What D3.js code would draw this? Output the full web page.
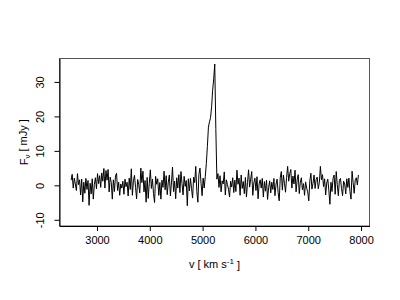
<!DOCTYPE html>
<html>
<head>
<meta charset="utf-8">
<script src="https://cdn.jsdelivr.net/npm/d3@7"></script>
<style>
  body { margin: 0; background: #fff; }
  svg text { font-family: "Liberation Sans", Arial, sans-serif; fill: #000; }
</style>
</head>
<body>
<svg id="chart" width="400" height="300"></svg>
<script>
// channel grid of the spectrum (km/s)
const vStart = 2510, vEnd = 7950, vStep = 20;

// flux density per channel (mJy)
const flux = [
  1.5, 3.2, -0.8, 2.1, 0.4,   -1.5, 3.4, 0.2, 1.6, -2.8,
  1.8, -4.8, 0.9, -2.3, 2.0,  -1.2, 1.4, -5.8, 0.6, -2.5,
  1.9, -4.0, 0.3, 2.2, -1.0,  3.4, 0.5, 2.8, -0.6, 3.6,
  1.2, 4.9, -0.8, 4.3, 1.5,   4.6, -1.9, 2.4, 0.8, -4.0,
  1.6, -1.8, 2.7, 3.5, -1.5,  0.9, -2.9, 0.4, -0.8, 1.2,
  -2.6, 1.8, -0.4, 0.9, -3.1, 2.1, -1.2, 4.8, -2.9, 1.3,
  2.9, -0.6, -3.9, 1.7, 0.2,  -2.2, 5.0, 0.8, 4.1, -1.9,
  1.4, -4.9, 2.3, -3.8, 0.6,  4.5, -0.9, 1.8, -2.4, -5.0,
  2.6, 0.3, 1.9, -2.9, 0.8,   -4.0, 1.5, -0.6, 4.1, -1.3,
  2.8, -2.7, 0.9, 3.0, -3.1,  0.7, 5.3, -1.8, 1.2, -3.9,
  2.2, -0.8, 3.1, -2.1, 4.0,  0.5, -2.8, 2.6, -0.3, 1.4,
  -5.9, 1.9, -1.6, 2.0, -0.9, -3.7, 2.4, 0.8, 5.5, -1.7,
  -4.9, 3.2, 5.0, 0.6, -3.0,
  2.1, -0.8,
  // the line
  2.5, 6.3, 11.2, 16.9, 18.4, 19.6, 22.8, 27.6, 30.9, 35.2, 16.5, 1.8, 3.4,
  -0.6, 2.8, -1.9, 1.3, 0.4,  3.9, -2.8, 1.6, 0.2, -1.1,
  -3.4, 1.2, -0.5, 2.2, -2.1, 1.5, -1.8, 4.4, 0.3, 2.1,
  -2.9, 3.0, -0.9, 1.1, -2.4, 2.3, -3.4, 0.8, 4.5, -0.5,
  1.8, 4.0, -2.9, 0.7, 2.1,   -1.5, 2.5, -3.9, 0.4, 1.6,
  -0.8, 2.0, -3.4, 1.1, -1.7, 1.5, -4.1, -0.6, 1.3, -2.2,
  0.9, -1.2, 2.0, -3.0, 0.3,  1.8, -2.1, -4.5, 2.2, 4.0,
  -1.4, 3.0, 0.6, -2.0, 2.3,  5.5, 1.2, 3.4, 4.6, -0.8,
  2.7, 0.4, 4.4, -1.9, 1.6,   3.1, -2.4, 0.9, 2.2, -1.3,
  0.5, -2.9, 1.0, -0.8, -1.9, -4.5, 1.2, 3.5, -1.1, 0.6,
  3.0, -0.9, 1.7, 2.4, -1.0,  0.8, 5.5, 1.6, 3.1, -0.4,
  1.9, -2.8, 0.7, 1.8, -1.4,  -5.5, 0.9, -1.8, 2.0, 3.0,
  -2.6, 4.0, 0.2, -3.0, 1.5,  2.0, -0.9, -3.0, 1.2, 0.4,
  -2.5, 1.9, -0.6, 2.1, -1.8, -4.0, 4.1, 0.8, -2.3, 1.6,
  2.2, 0.1, 3.0
];

const xTicks = [3000, 4000, 5000, 6000, 7000, 8000];
const yTicks = [-10, 0, 10, 20, 30];

const velocity = d3.range(vStart, vEnd + 1, vStep);
const data = velocity.map((v, i) => ({ v: v, f: flux[i] }));

const svg = d3.select("#chart");
const margin = { top: 58.5, right: 30.5, bottom: 74, left: 59.5 };
const width = 400 - margin.left - margin.right;
const height = 300 - margin.top - margin.bottom;

const x = d3.scaleLinear().domain([2290, 8160]).range([0, width]);
const y = d3.scaleLinear().domain([-11.8, 36.8]).range([height, 0]);

const g = svg.append("g")
  .attr("transform", `translate(${margin.left}, ${margin.top})`);

// spectrum
const line = d3.line()
  .x(d => x(d.v))
  .y(d => y(d.f));

g.append("path")
  .datum(data)
  .attr("fill", "none")
  .attr("stroke", "#000")
  .attr("stroke-width", 1)
  .attr("stroke-linejoin", "round")
  .attr("d", line);

// box
g.append("rect")
  .attr("width", width)
  .attr("height", height)
  .attr("fill", "none")
  .attr("stroke", "#555")
  .attr("stroke-width", 1);

// axes, R style: no outer ticks, plain hyphen minus
const fmt = d => String(d);

const xAxis = g.append("g")
  .attr("transform", `translate(0, ${height})`)
  .call(d3.axisBottom(x).tickValues(xTicks).tickSizeInner(5).tickSizeOuter(0).tickPadding(5).tickFormat(fmt));

const yAxis = g.append("g")
  .call(d3.axisLeft(y).tickValues(yTicks).tickSizeInner(5).tickSizeOuter(0).tickFormat(fmt));

[xAxis, yAxis].forEach(a => {
  a.select(".domain").attr("stroke", "#000");
  a.selectAll(".tick line").attr("stroke", "#000");
  a.selectAll("text").style("font-size", "11px").attr("fill", "#000");
});

// y labels parallel to the axis
yAxis.selectAll(".tick text")
  .attr("x", null).attr("dy", null)
  .attr("text-anchor", "middle")
  .attr("transform", "translate(-16, 0) rotate(-90)");

// axis titles
const xTitle = g.append("text")
  .attr("x", width / 2)
  .attr("y", height + 42)
  .attr("text-anchor", "middle")
  .style("font-size", "11px");
xTitle.append("tspan").text("v [ km s");
xTitle.append("tspan").attr("dy", "-0.45em").style("font-size", "8px").text("-1");
xTitle.append("tspan").attr("dy", "0.45em").text(" ]");

const yTitle = g.append("text")
  .attr("transform", `translate(-32, ${height / 2}) rotate(-90)`)
  .attr("text-anchor", "middle")
  .style("font-size", "11px");
yTitle.append("tspan").text("F");
yTitle.append("tspan").attr("dy", "0.3em").style("font-size", "8px").text("ν");
yTitle.append("tspan").attr("dy", "-0.3em").text(" [ mJy ]");
</script>
</body>
</html>
